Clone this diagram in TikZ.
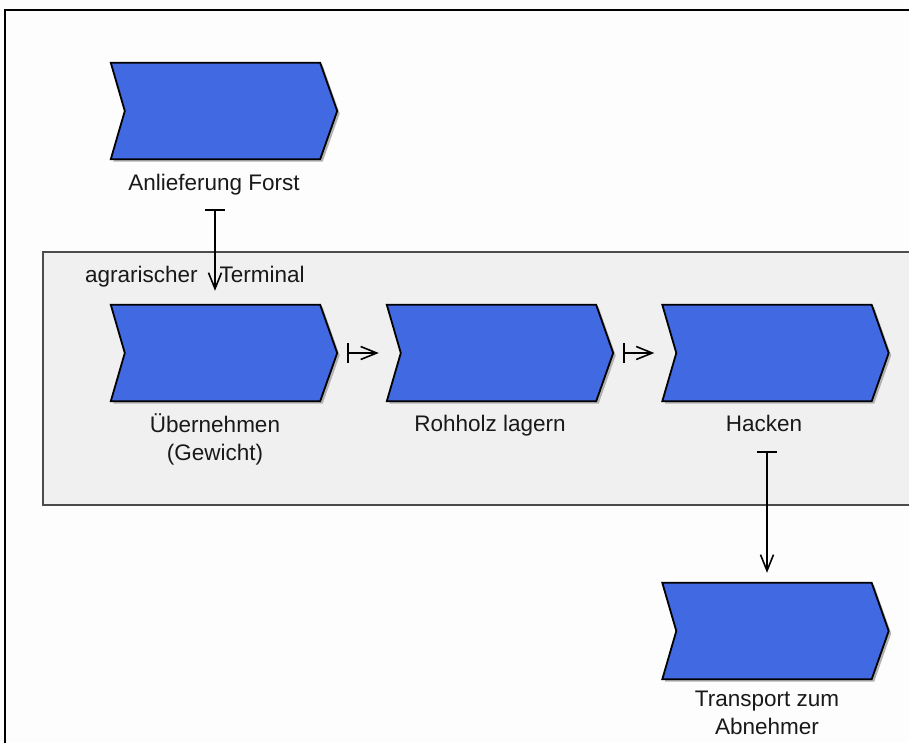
\documentclass[tikz,border=0pt]{standalone}
\usepackage{fontspec}
\setmainfont{Liberation Sans}
\usetikzlibrary{arrows.meta,calc}
\definecolor{evblue}{RGB}{65,105,225}
\definecolor{grpfill}{RGB}{240,240,240}
\definecolor{bgwhite}{RGB}{253,253,253}
\definecolor{txtcol}{RGB}{25,25,25}
\tikzset{
  chevbox/.style={draw=none,minimum width=226pt,minimum height=96pt,inner sep=0pt},
  chevfill/.style={fill=evblue,draw=black,line width=1.8pt,line join=miter},
  chevshadow/.style={fill=black!30,draw=none},
  lbl/.style={font=\fontsize{22.5}{28}\selectfont,text=txtcol,align=center,inner sep=0pt},
  flowbar/.style={line width=2pt,black,{Bar[width=20pt,line width=2pt]}-{Straight Barb[length=16pt,width=13pt,line width=1.6pt]}}
}
\newcommand{\chevpath}[2]{($(#1.north west)+(#2)$) -- ($(#1.north east)+(-17pt,0)+(#2)$) -- ($(#1.east)+(#2)$) -- ($(#1.south east)+(-17pt,0)+(#2)$) -- ($(#1.south west)+(#2)$) -- ($(#1.west)+(14pt,0)+(#2)$) -- cycle}
\begin{document}
\begin{tikzpicture}[x=1pt,y=-1pt]
\useasboundingbox (0,0) rectangle (909,742);
\clip (0,0) rectangle (909,742);
\fill[bgwhite] (0,0) rectangle (909,742);
% outer frame (left and top edges visible)
\draw[line width=2.4pt,black] (5,760) -- (5,10) -- (930,10);
% group area
\draw[fill=grpfill,draw=black!70,line width=1.4pt] (43,252) rectangle (930,505);
\node[lbl,anchor=base west] (grp) at (85,282) {agrarischer\hspace{22pt}Terminal};
% event/function nodes
\node[chevbox] (a) at (224,111) {};
\node[chevbox] (b) at (224,353) {};
\node[chevbox] (c) at (500,353) {};
\node[chevbox] (d) at (775.5,353) {};
\node[chevbox] (e) at (775.5,631) {};
\foreach \n in {a,b,c,d,e}{
  \fill[chevshadow] \chevpath{\n}{2.5pt,-2.5pt};
  \draw[chevfill] \chevpath{\n}{0pt,0pt};
}
% labels
\node[lbl,anchor=base] (la) at (214,190) {Anlieferung Forst};
\node[lbl,anchor=base] (lb) at (215,460) {Übernehmen\\(Gewicht)};
\node[lbl,anchor=base] (lc) at (490,431) {Rohholz lagern};
\node[lbl,anchor=base] (ld) at (764,431) {Hacken};
\node[lbl,anchor=base] (le) at (767,734) {Transport zum\\Abnehmer};
% connectors
\draw[flowbar] ([xshift=-9pt,yshift=-50pt]a.south) -- ([xshift=-9pt,yshift=14pt]b.north);
\draw[flowbar] ([xshift=10pt]b.east) -- ([xshift=-8pt]c.west);
\draw[flowbar] ([xshift=10pt]c.east) -- ([xshift=-8pt]d.west);
\draw[flowbar] ([xshift=-8.5pt,yshift=-50pt]d.south) -- ([xshift=-8.5pt,yshift=10pt]e.north);
\end{tikzpicture}
\end{document}
